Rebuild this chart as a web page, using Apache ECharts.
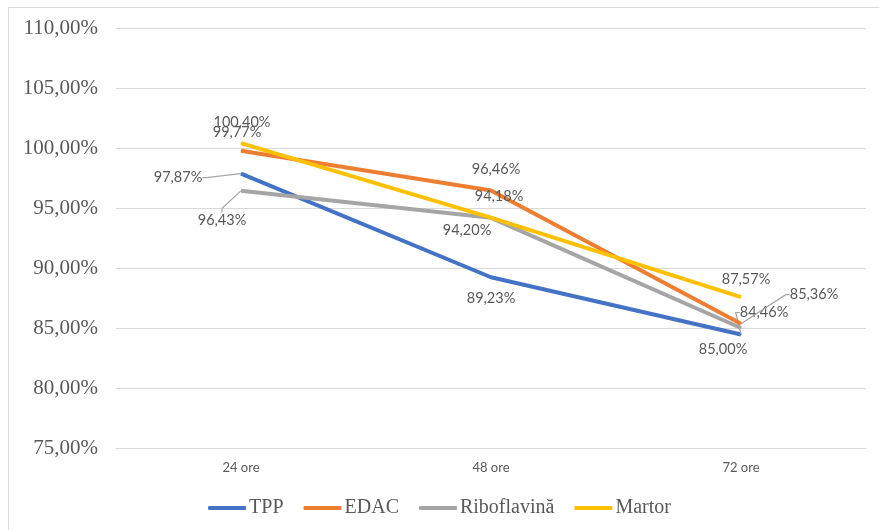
<!DOCTYPE html>
<html>
<head>
<meta charset="utf-8">
<script src="https://cdn.jsdelivr.net/npm/echarts@6/dist/echarts.min.js"></script>
<style>
  html, body { margin: 0; padding: 0; background: #fff; }
  #chart { width: 879px; height: 530px; }
</style>
</head>
<body>
<div id="chart"></div>
<script>
// Time points and measured percentages for each treatment
const categories = ['24 ore', '48 ore', '72 ore'];
const seriesNames = ['TPP', 'EDAC', 'Riboflavină', 'Martor'];
const tppValues = [97.87, 89.23, 84.46];
const edacValues = [99.77, 96.46, 85.36];
const riboValues = [96.43, 94.18, 85.00];
const martorValues = [100.40, 94.20, 87.57];
const yTicks = { min: 75, max: 110, interval: 5 };

const colors = ['#4472C4', '#ED7D31', '#A5A5A5', '#FFC000'];

// Label offsets (px) from each point, per series / per time point
const labelShift = [
  [[-63, 4], [0, 21], [23, -22]],
  [[-4, -18], [5, -21], [73, -29]],
  [[-19, 29], [8, -22], [-18, 21]],
  [[1, -21], [-24, 13], [5, -18]]
];
// Which labels get a leader line
const leader = [
  [true, false, true],
  [false, false, true],
  [true, false, false],
  [false, false, false]
];

const fmt = v => v.toFixed(2).replace('.', ',') + '%';
const allValues = [tppValues, edacValues, riboValues, martorValues];

const chart = echarts.init(document.getElementById('chart'));

const series = allValues.map((vals, si) => ({
  name: seriesNames[si],
  type: 'line',
  data: vals.map((v, di) => ({
    value: v,
    labelLine: { show: leader[si][di], lineStyle: { color: '#A5A5A5', width: 1.2 } }
  })),
  symbol: 'circle',
  symbolSize: 1,
  showSymbol: true,
  lineStyle: { color: colors[si], width: 4 },
  itemStyle: { color: colors[si] },
  z: 2 + si,
  label: {
    show: true,
    position: 'inside',
    formatter: p => fmt(p.value),
    fontFamily: 'Lato',
    fontSize: 14.5,
    color: '#595959'
  },
  labelLine: { show: false, length2: 4 },
  labelLayout: p => ({
    dx: labelShift[si][p.dataIndex][0],
    dy: labelShift[si][p.dataIndex][1]
  })
}));

chart.setOption({
  animation: false,
  color: colors,
  graphic: [{
    type: 'rect',
    shape: { x: 8.5, y: 7.5, width: 880, height: 530 },
    style: { fill: 'none', stroke: '#D9D9D9', lineWidth: 1 },
    silent: true
  }],
  grid: { left: 116, right: 13, top: 28, bottom: 82 },
  xAxis: {
    type: 'category',
    data: categories,
    boundaryGap: true,
    axisLine: { lineStyle: { color: '#D9D9D9' } },
    axisTick: { show: false },
    axisLabel: { fontFamily: 'Lato', fontSize: 13, color: '#595959', margin: 13 }
  },
  yAxis: {
    type: 'value',
    min: yTicks.min,
    max: yTicks.max,
    interval: yTicks.interval,
    axisLine: { show: false },
    axisTick: { show: false },
    splitLine: { lineStyle: { color: '#D9D9D9', width: 1 } },
    axisLabel: {
      formatter: v => fmt(v),
      fontFamily: 'Liberation Serif',
      fontSize: 21,
      color: '#595959',
      margin: 18
    }
  },
  legend: {
    bottom: 7,
    left: 'center',
    data: seriesNames,
    icon: 'roundRect',
    itemWidth: 38,
    itemHeight: 4,
    itemGap: 20,
    textStyle: { fontFamily: 'Liberation Serif', fontSize: 20, color: '#595959', padding: [0, 0, 0, -2] }
  },
  series
});
</script>
</body>
</html>
